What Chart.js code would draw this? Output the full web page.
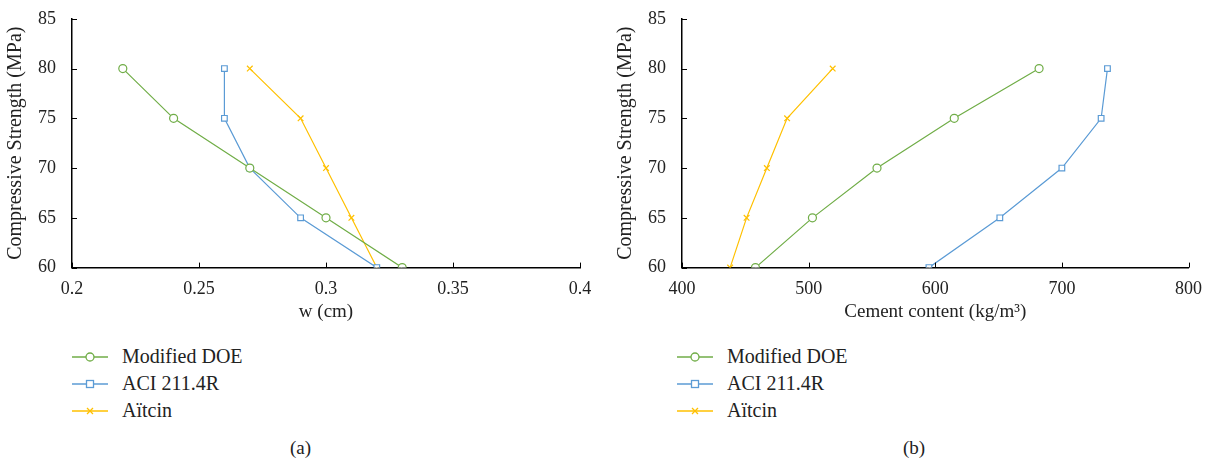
<!DOCTYPE html>
<html>
<head>
<meta charset="utf-8">
<script src="https://cdn.jsdelivr.net/npm/chart.js@4"></script>
<style>
  body { margin: 0; background: #fff; font-family: "Liberation Serif", serif; }
  .panel { position: absolute; top: 0; width: 605px; height: 464px; }
  .plot { position: absolute; left: 0; top: 0; width: 600px; height: 323px; }
  .legend { position: absolute; left: 72px; top: 343px; font-size: 20px; color: #222; }
  .legend div { height: 27px; display: flex; align-items: center; }
  .legend svg { margin-right: 14px; }
  .caption { position: absolute; top: 437px; font-size: 19px; color: #222; }
</style>
</head>
<body>
<div class="panel" style="left:0">
  <div class="plot"><canvas id="chartA"></canvas></div>
  <div class="legend" id="legendA"></div>
  <div class="caption" style="left:290px">(a)</div>
</div>
<div class="panel" style="left:605px">
  <div class="plot"><canvas id="chartB"></canvas></div>
  <div class="legend" id="legendB"></div>
  <div class="caption" style="left:298px">(b)</div>
</div>
<script>
// strength levels (y axis) shared by both panels
var strength = [80, 75, 70, 65, 60];

// (a) w (cm)
var wDOE = [0.22, 0.24, 0.27, 0.30, 0.33];
var wACI = [0.26, 0.26, 0.27, 0.29, 0.32];
var wAitcin = [0.27, 0.29, 0.30, 0.31, 0.32];

// (b) cement content (kg/m3)
var cDOE = [682, 615, 554, 503, 458];
var cACI = [736, 731, 700, 651, 595];
var cAitcin = [519, 483, 467, 451, 438];

var seriesNames = ['Modified DOE', 'ACI 211.4R', 'A\u00eftcin'];
var colors = ['#70AD47', '#5B9BD5', '#FFC000'];
var markers = ['circle', 'rect', 'crossRot'];

var serif = "'Liberation Serif', serif";

// small tick marks drawn on the inner side of both axes
var innerTicks = {
  id: 'innerTicks',
  afterDraw: function(chart) {
    var ctx = chart.ctx;
    var area = chart.chartArea;
    ctx.save();
    ctx.strokeStyle = '#000';
    ctx.lineWidth = 1;
    chart.scales.x.ticks.forEach(function(t, i) {
      var px = Math.round(chart.scales.x.getPixelForTick(i)) + 0.5;
      ctx.beginPath(); ctx.moveTo(px, area.bottom); ctx.lineTo(px, area.bottom - 5); ctx.stroke();
    });
    chart.scales.y.ticks.forEach(function(t, i) {
      var py = Math.round(chart.scales.y.getPixelForTick(i)) + 0.5;
      ctx.beginPath(); ctx.moveTo(area.left, py); ctx.lineTo(area.left + 5, py); ctx.stroke();
    });
    ctx.restore();
  }
};

function toPoints(xs) {
  return xs.map(function(x, i) { return { x: x, y: strength[i] }; });
}

function makeDatasets(list) {
  return list.map(function(xs, i) {
    return {
      label: seriesNames[i],
      data: toPoints(xs),
      showLine: true,
      borderColor: colors[i],
      backgroundColor: '#fff',
      borderWidth: 1.2,
      pointStyle: markers[i],
      pointRadius: 4,
      pointBorderWidth: 1.2,
      pointBorderColor: colors[i],
      pointBackgroundColor: '#fff'
    };
  });
}

function makeChart(canvas, datasets, xMin, xMax, xStep, xTitle, pad) {
  return new Chart(canvas, {
    type: 'scatter',
    data: { datasets: datasets },
    plugins: [innerTicks],
    options: {
      responsive: true,
      maintainAspectRatio: false,
      animation: false,
      layout: { padding: pad },
      plugins: { legend: { display: false }, tooltip: { enabled: false } },
      scales: {
        x: {
          type: 'linear',
          min: xMin, max: xMax,
          ticks: {
            stepSize: xStep, color: '#222', font: { family: serif, size: 18 }, padding: 3,
            callback: function(v) { return String(+v.toFixed(2)); }
          },
          grid: { display: false },
          border: { color: '#000', width: 1.5 },
          title: { display: true, text: xTitle, color: '#222', font: { family: serif, size: 19 }, padding: { top: -3, bottom: 0 } }
        },
        y: {
          min: 60, max: 85,
          ticks: { stepSize: 5, color: '#222', font: { family: serif, size: 18 }, padding: 8 },
          grid: { display: false },
          border: { color: '#000', width: 1.5 },
          title: { display: true, text: 'Compressive Strength (MPa)', color: '#222', font: { family: serif, size: 20 }, padding: { bottom: 2 } }
        }
      }
    }
  });
}

function buildLegend(el) {
  var html = '';
  seriesNames.forEach(function(name, i) {
    var c = colors[i];
    var mark = '';
    if (markers[i] === 'circle') mark = '<circle cx="18" cy="7" r="4" fill="#fff" stroke="' + c + '" stroke-width="1.3"/>';
    if (markers[i] === 'rect') mark = '<rect x="14.5" y="3.5" width="7" height="7" fill="#fff" stroke="' + c + '" stroke-width="1.3"/>';
    if (markers[i] === 'crossRot') mark = '<path d="M15 4 L21 10 M21 4 L15 10" stroke="' + c + '" stroke-width="1.3"/>';
    html += '<div><svg width="36" height="14"><line x1="0" y1="7" x2="36" y2="7" stroke="' + c + '" stroke-width="1.3"/>' + mark + '</svg>' + name + '</div>';
  });
  el.innerHTML = html;
}

makeChart(document.getElementById('chartA'), makeDatasets([wDOE, wACI, wAitcin]), 0.2, 0.4, 0.05, 'w (cm)',
  { top: 12, right: 20, left: 0, bottom: 0 });
makeChart(document.getElementById('chartB'), makeDatasets([cDOE, cACI, cAitcin]), 400, 800, 100, 'Cement content (kg/m\u00b3)',
  { top: 12, right: 14, left: 5, bottom: 0 });
buildLegend(document.getElementById('legendA'));
buildLegend(document.getElementById('legendB'));
</script>
</body>
</html>
